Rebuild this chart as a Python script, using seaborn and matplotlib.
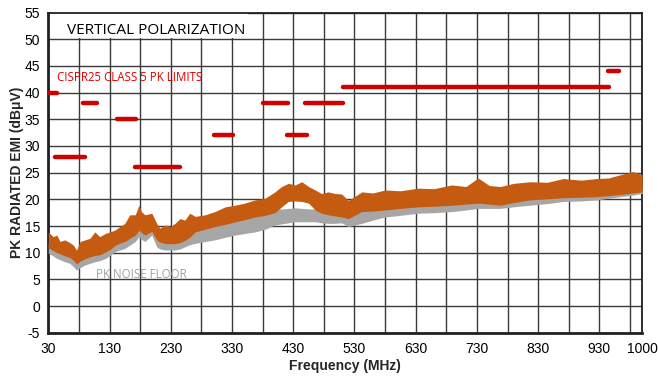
import matplotlib
matplotlib.use("Agg")
import matplotlib.pyplot as plt
from matplotlib.patches import Rectangle
import seaborn as sns
import pandas as pd

# ---- data ----
freq = [30, 38, 44, 49, 57, 65, 71, 76, 82, 90,
        98, 106, 114, 123, 131, 139, 147, 155, 163, 172,
        178, 182, 188, 199, 207, 212, 221, 229, 237, 245,
        253, 261, 270, 286, 302, 319, 335, 351, 368, 384,
        400, 411, 422, 433, 444, 455, 466, 476, 487, 498,
        509, 520, 542, 560, 580, 605, 634, 660, 689, 712,
        732, 750, 768, 790, 817, 845, 871, 900, 926, 945,
        964, 985, 1000]
emi_top = [13.9, 13.0, 13.3, 12.1, 12.4, 11.9, 11.4, 10.5, 12.1, 12.4,
           12.7, 13.9, 13.0, 13.6, 13.9, 14.25, 14.9, 15.5, 17.1, 17.1,
           18.9, 17.7, 17.1, 17.4, 15.5, 14.6, 15.2, 14.9, 15.5, 16.4,
           16.1, 17.4, 16.8, 17.1, 17.7, 18.6, 18.9, 19.3, 19.9, 20.2,
           21.4, 22.4, 23.0, 22.7, 23.3, 22.4, 21.75, 21.1, 21.4, 21.1,
           21.0, 19.8, 21.4, 21.2, 21.75, 21.6, 22.1, 22.0, 22.7, 22.4,
           24.0, 22.6, 22.4, 23.0, 23.3, 23.2, 23.9, 23.6, 23.9, 24.0,
           24.6, 25.2, 24.6]
emi_bot = [10.9, 10.4, 10.0, 9.8, 9.4, 9.1, 8.6, 7.9, 8.4, 8.9,
           9.2, 9.5, 9.6, 10.1, 10.6, 11.4, 11.8, 12.1, 12.7, 13.3,
           14.2, 13.8, 13.3, 14.0, 12.4, 12.0, 11.7, 11.7, 11.7, 11.9,
           12.3, 12.9, 13.9, 14.4, 14.9, 15.3, 15.8, 16.2, 16.7, 17.0,
           17.5, 18.6, 19.6, 19.7, 19.6, 19.3, 18.0, 17.4, 17.1, 16.9,
           16.7, 16.4, 17.7, 17.8, 18.0, 18.3, 18.6, 18.7, 18.9, 19.1,
           19.3, 19.1, 18.9, 19.4, 19.9, 20.1, 20.3, 20.4, 20.5, 20.7,
           20.9, 21.2, 21.4]
floor_top = [11.9, 11.4, 11.0, 10.8, 10.4, 10.1, 9.6, 8.9, 9.4, 9.9,
             10.2, 10.5, 10.6, 11.1, 11.6, 12.4, 12.8, 13.1, 13.7, 14.3,
             15.2, 14.8, 14.3, 15.0, 13.4, 13.0, 12.7, 12.7, 12.7, 12.9,
             13.3, 13.9, 14.9, 15.4, 15.9, 16.3, 16.8, 17.2, 17.7, 18.0,
             18.2, 18.2, 18.3, 18.4, 18.3, 18.2, 18.2, 18.4, 18.1, 17.9,
             17.7, 17.4, 18.7, 18.8, 19.0, 19.3, 19.6, 19.7, 19.9, 20.1,
             20.3, 20.1, 19.9, 20.4, 20.9, 21.1, 21.3, 21.4, 21.5, 21.7,
             21.9, 22.2, 22.4]
floor_bot = [9.9, 9.4, 8.9, 8.7, 8.3, 8.0, 7.4, 6.75, 7.2, 7.7,
             8.0, 8.3, 8.5, 8.9, 9.5, 10.2, 10.5, 10.8, 11.4, 12.1,
             13.0, 12.5, 12.1, 13.3, 11.1, 10.7, 10.5, 10.5, 10.5, 10.7,
             11.1, 11.5, 11.75, 12.1, 12.4, 12.9, 13.3, 13.6, 13.9, 14.4,
             15.2, 15.4, 15.6, 15.8, 15.8, 15.8, 15.8, 15.6, 15.5, 15.5,
             15.6, 14.9, 15.5, 16.1, 16.7, 17.0, 17.4, 17.5, 17.7, 18.0,
             18.3, 18.3, 18.3, 18.6, 18.9, 19.2, 19.6, 19.7, 19.9, 20.2,
             20.5, 20.8, 21.1]

lim_start = [30, 41, 87, 142, 172, 300, 381, 420, 450, 512, 944]
lim_end = [44, 90, 109, 174, 245, 331, 421, 452, 512, 945, 962]
lim_level = [40, 28, 38, 35, 26, 32, 38, 32, 38, 41, 44]

x_ticks = [30, 130, 230, 330, 430, 530, 630, 730, 830, 930, 1000]
y_ticks = list(range(-5, 56, 5))

# ---- styling ----
sns.set_theme(style="white")
plt.rcParams['font.family'] = ['Liberation Sans', 'DejaVu Sans']
plt.rcParams['axes.unicode_minus'] = False

fig = plt.figure(figsize=(6.58, 3.77), dpi=100)
ax = fig.add_axes([0.0734, 0.1175, 0.9027, 0.849])

ORANGE = "#C55A11"
GRAY = "#A6A6A6"
RED = "#D00000"

ax.fill_between(freq, floor_bot, floor_top, color=GRAY, lw=0, zorder=3)
ax.fill_between(freq, emi_bot, emi_top, color=ORANGE, lw=0, zorder=4)

seg = []
for i, (s, e, l) in enumerate(zip(lim_start, lim_end, lim_level)):
    seg.append({"f": s, "v": l, "id": i})
    seg.append({"f": e, "v": l, "id": i})
lim_df = pd.DataFrame(seg)
sns.lineplot(data=lim_df, x="f", y="v", units="id", estimator=None, color=RED,
             lw=3.2, solid_capstyle="round", ax=ax, zorder=5, legend=False)

ax.set_xlim(30, 1000)
ax.set_ylim(-5, 55)
ax.set_xticks(x_ticks)
ax.set_yticks(y_ticks)
ax.set_xticks(list(range(30, 1000, 50)), minor=True)
ax.grid(True, which="both", axis="x", color="#3a3a3a", lw=1.0)
ax.grid(True, which="major", axis="y", color="#3a3a3a", lw=1.0)
ax.set_axisbelow(True)
ax.tick_params(axis="both", which="both", length=0, labelsize=10, colors="black")
ax.tick_params(axis="x", pad=7)
ax.tick_params(axis="y", pad=6)
for side in ["left", "bottom", "top", "right"]:
    ax.spines[side].set_color("#202020")
    ax.spines[side].set_linewidth(1.3)
ax.spines["left"].set_linewidth(2)
ax.spines["bottom"].set_linewidth(2)

ax.set_xlabel("Frequency (MHz)", fontsize=10, fontweight="bold", labelpad=2)
ax.set_ylabel("PK RADIATED EMI (dB\u03bcV)", fontsize=10, fontweight="bold", labelpad=0)

# white box behind the title
ax.add_patch(Rectangle((30.5, 50.3), 325, 4.6, facecolor="white", edgecolor="none", zorder=2))

ax.text(60, 51.6, "VERTICAL POLARIZATION", fontsize=11.1, family=["Open Sans", "DejaVu Sans"],
        color="black", va="center", ha="left", zorder=6)
ax.text(45, 42.8, "CISPR25 CLASS 5 PK LIMITS", fontsize=8.3, family=["Open Sans", "DejaVu Sans"],
        color="#E00000", va="center", ha="left", zorder=6)
ax.text(108, 6.0, "PK NOISE FLOOR", fontsize=8.3, family=["Open Sans", "DejaVu Sans"],
        color="#A0A0A0", va="center", ha="left", zorder=6)

fig.savefig("out.png", dpi=100)
